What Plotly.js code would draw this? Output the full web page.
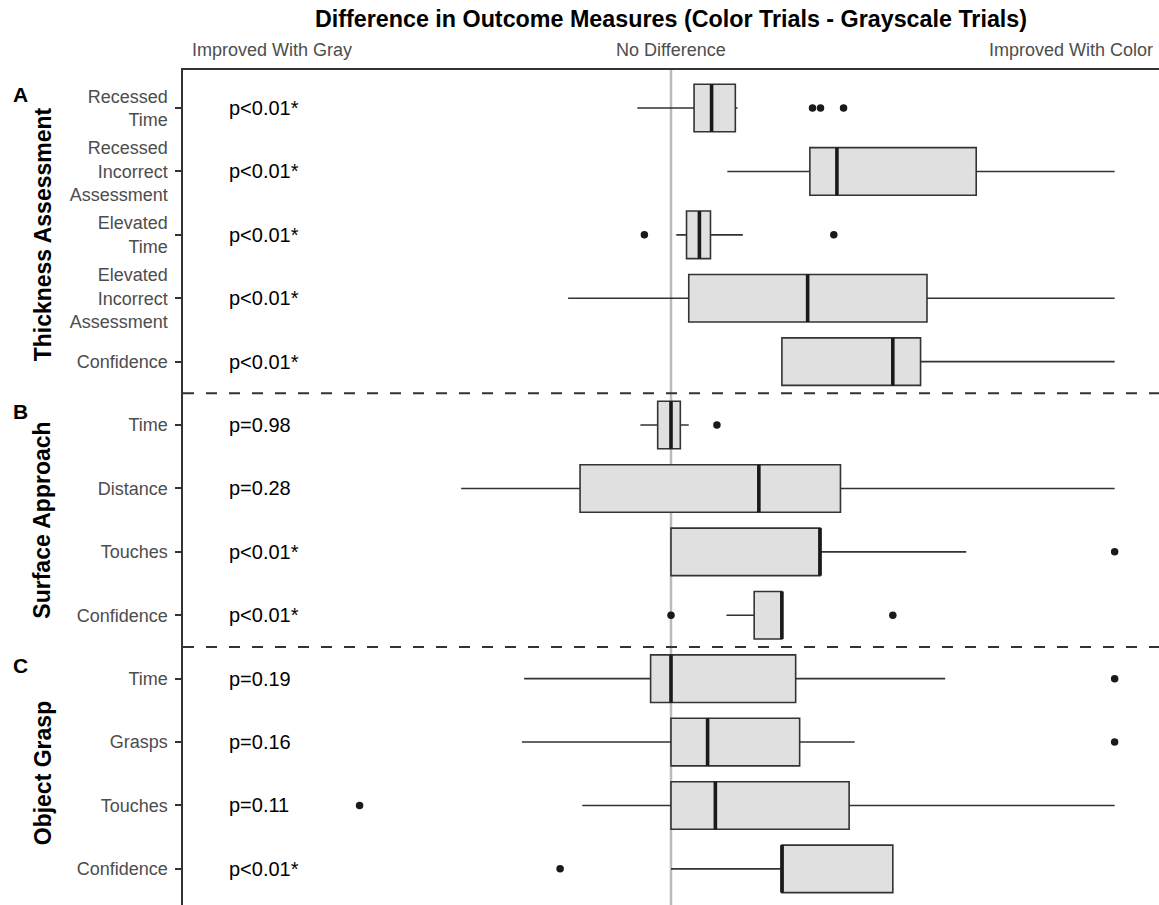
<!DOCTYPE html>
<html>
<head>
<meta charset="utf-8">
<script src="https://cdn.plot.ly/plotly-3.0.1.min.js"></script>
<style>html,body{margin:0;padding:0;background:#fff;}#chart{width:1159px;height:905px;}</style>
</head>
<body>
<div id="chart"></div>
<script>
// Row labels (top to bottom)
const rowLabels = [
  "Recessed<br>Time",
  "Recessed<br>Incorrect<br>Assessment",
  "Elevated<br>Time",
  "Elevated<br>Incorrect<br>Assessment",
  "Confidence",
  "Time",
  "Distance",
  "Touches",
  "Confidence",
  "Time",
  "Grasps",
  "Touches",
  "Confidence"
];
const pValues = ["p<0.01*","p<0.01*","p<0.01*","p<0.01*","p<0.01*",
                 "p=0.98","p=0.28","p<0.01*","p<0.01*",
                 "p=0.19","p=0.16","p=0.11","p<0.01*"];
// Box statistics (difference: color - grayscale, normalised)
const lowerFence = [-0.076, 0.127, 0.012, -0.232, 0.25, -0.069, -0.473, 0.0, 0.125, -0.331, -0.336, -0.2, 0.0];
const q1Values   = [0.052, 0.313, 0.035, 0.04, 0.25, -0.03, -0.205, 0.0, 0.1875, -0.046, 0.0, 0.0, 0.25];
const medians    = [0.0915, 0.374, 0.064, 0.308, 0.5, 0.0, 0.198, 0.336, 0.25, 0.0, 0.0825, 0.1, 0.25];
const q3Values   = [0.145, 0.688, 0.089, 0.577, 0.5625, 0.021, 0.382, 0.336, 0.25, 0.281, 0.29, 0.4015, 0.5];
const upperFence = [0.15, 1.0, 0.162, 1.0, 1.0, 0.04, 1.0, 0.6655, 0.25, 0.618, 0.414, 1.0, 0.5];
// Outliers: row index and value
const outlierRow = [0, 0, 0, 2, 2, 5, 7, 8, 8, 9, 10, 11, 12];
const outlierVal = [0.319, 0.337, 0.389, -0.06, 0.367, 0.1035, 1.0, 0.0, 0.5, 1.0, 1.0, -0.702, -0.25];
// Groups
const groupNames = ["Thickness Assessment", "Surface Approach", "Object Grasp"];
const groupLetters = ["A", "B", "C"];
const groupFirstRow = [0, 5, 9];
const groupLastRow = [4, 8, 12];
const topLabels = ["Improved With Gray", "No Difference", "Improved With Color"];

const FONT = "Liberation Sans, Arial, Helvetica, sans-serif";
const positions = rowLabels.map((_, i) => i);
const BOXW = 0.75;

const boxTrace = {
  type: "box",
  orientation: "h",
  y: positions,
  q1: q1Values,
  median: medians,
  q3: q3Values,
  lowerfence: lowerFence,
  upperfence: upperFence,
  width: BOXW,
  whiskerwidth: 0,
  boxpoints: false,
  fillcolor: "#E0E0E0",
  line: {color: "#333333", width: 1.6},
  showlegend: false,
  hoverinfo: "skip"
};

const medX = [], medY = [];
medians.forEach((m, i) => {
  medX.push(m, m, null);
  medY.push(i - BOXW / 2, i + BOXW / 2, null);
});
const medianTrace = {
  type: "scatter", mode: "lines", x: medX, y: medY,
  line: {color: "#1a1a1a", width: 3.6},
  showlegend: false, hoverinfo: "skip"
};

const outlierTrace = {
  type: "scatter", mode: "markers",
  x: outlierVal, y: outlierRow,
  marker: {color: "#1a1a1a", size: 7.5},
  showlegend: false, hoverinfo: "skip"
};

const annotations = [];
pValues.forEach((p, i) => {
  annotations.push({
    xref: "x", yref: "y", x: -1.0, y: i, text: p, showarrow: false,
    xanchor: "left", yanchor: "middle",
    font: {family: FONT, size: 20, color: "#000"}
  });
});
groupNames.forEach((g, k) => {
  annotations.push({
    xref: "paper", yref: "y", x: (42.5 - 183) / 976,
    y: (groupFirstRow[k] + groupLastRow[k]) / 2,
    text: "<b>" + g + "</b>", textangle: -90, showarrow: false,
    xanchor: "center", yanchor: "middle",
    font: {family: FONT, size: 23, color: "#000"}
  });
  annotations.push({
    xref: "paper", yref: "paper", x: (20 - 183) / 976,
    y: 1 - ((groupFirstRow[k] + 0.6 - 0.21) * 63.4) / 835,
    text: "<b>" + groupLetters[k] + "</b>", showarrow: false,
    xanchor: "center", yanchor: "middle",
    font: {family: FONT, size: 21, color: "#000"}
  });
});
const topX = [(190 - 183) / 976, 0.5, (1155 - 183) / 976];
const topAnchor = ["left", "center", "right"];
topLabels.forEach((t, k) => {
  annotations.push({
    xref: "paper", yref: "paper", x: topX[k], y: 1 + 20 / 835,
    text: t, showarrow: false, xanchor: topAnchor[k], yanchor: "middle",
    font: {family: FONT, size: 18, color: "#4D4D4D"}
  });
});

const shapes = [
  {type: "line", layer: "below", xref: "x", yref: "paper", x0: 0, x1: 0, y0: 0, y1: 1,
   line: {color: "#BBBBBB", width: 2.5}}
];
[4.5, 8.5].forEach(v => {
  shapes.push({type: "line", layer: "above", xref: "paper", yref: "y", x0: 0, x1: 1, y0: v, y1: v,
    line: {color: "#333333", width: 2, dash: "11px,12px"}});
});

const layout = {
  width: 1159, height: 905,
  margin: {l: 183, r: 0, t: 70, b: 0, pad: 0},
  paper_bgcolor: "#ffffff", plot_bgcolor: "#ffffff",
  font: {family: FONT},
  hovermode: false,
  showlegend: false,
  title: {
    text: "<b>Difference in Outcome Measures (Color Trials - Grayscale Trials)</b>",
    font: {family: FONT, size: 23.3, color: "#000"},
    x: 0.5, xref: "paper", xanchor: "center",
    y: 1 - 19 / 905, yref: "container", yanchor: "middle"
  },
  xaxis: {
    range: [-1.1, 1.1], side: "top", showgrid: false, zeroline: false,
    showticklabels: false, ticks: "", showline: true, linecolor: "#333333", linewidth: 1.6,
    fixedrange: true
  },
  yaxis: {
    range: [12.57, -0.6], tickvals: positions, ticktext: rowLabels,
    showgrid: false, zeroline: false, showline: true, linecolor: "#333333", linewidth: 1.6,
    ticks: "outside", ticklen: 6, tickwidth: 2, tickcolor: "#333333",
    ticklabelstandoff: 4,
    tickfont: {family: FONT, size: 18, color: "#4D4D4D"},
    fixedrange: true
  },
  annotations: annotations,
  shapes: shapes
};

Plotly.newPlot("chart", [boxTrace, medianTrace, outlierTrace], layout, {displayModeBar: false, staticPlot: true});
</script>
</body>
</html>
